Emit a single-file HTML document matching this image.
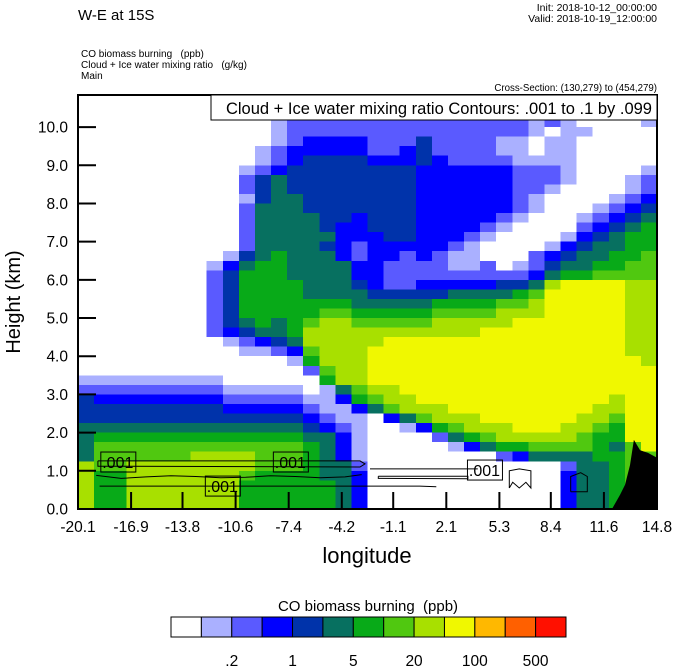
<!DOCTYPE html>
<html><head><meta charset="utf-8"><style>
html,body{margin:0;padding:0;background:#fff;}
svg{display:block;font-family:"Liberation Sans",sans-serif;}
.pre{white-space:pre;}
</style></head><body>
<svg id="chart" width="674" height="667" viewBox="0 0 674 667">
<text x="78" y="20" font-size="15">W-E at 15S</text>
<text x="657" y="11" font-size="10.5" text-anchor="end">Init: 2018-10-12_00:00:00</text>
<text x="657" y="22" font-size="10.5" text-anchor="end">Valid: 2018-10-19_12:00:00</text>
<text x="81" y="57" font-size="10" class="pre">CO biomass burning   (ppb)</text>
<text x="81" y="68" font-size="10" class="pre">Cloud + Ice water mixing ratio   (g/kg)</text>
<text x="81" y="79" font-size="10">Main</text>
<text x="657" y="91" font-size="9.7" text-anchor="end">Cross-Section: (130,279) to (454,279)</text>
<defs><clipPath id="pc"><rect x="78" y="95" width="579" height="414"/></clipPath></defs>
<g id="cells" clip-path="url(#pc)" shape-rendering="crispEdges"></g>
<g id="terrain" clip-path="url(#pc)"></g>
<g id="contours" clip-path="url(#pc)"></g>
<g id="axes"></g>
<rect x="211" y="95" width="446" height="25" fill="#fff" stroke="#000" stroke-width="1"/>
<text x="652" y="114" font-size="16.5" text-anchor="end">Cloud + Ice water mixing ratio Contours: .001 to .1 by .099</text>
<text x="367" y="563" font-size="22" text-anchor="middle">longitude</text>
<text transform="translate(20,302) rotate(-90)" font-size="20" text-anchor="middle">Height (km)</text>
<text x="368" y="611" font-size="15" text-anchor="middle" class="pre">CO biomass burning  (ppb)</text>
<g id="cbar"></g>
</svg>
<script>
const levelColors=["#ffffff","#aab0ff","#5a5aff","#0000ff","#0033aa","#077060","#08aa18","#50c810","#a8e000","#f0f800","#ffb800","#ff6000","#ff1000"];
const colorbarLabels=[".2","1","5","20","100","500"];
const colorbarLabelIdx=[2,4,6,8,10,12];
const xTickLabels=["-20.1","-16.9","-13.8","-10.6","-7.4","-4.2","-1.1","2.1","5.3","8.4","11.6","14.8"];
const yTickValues=[0,1,2,3,4,5,6,7,8,9,10];
const lonMin=-20.1, lonMax=14.8, hMin=0, hMax=10.84;
const gridRowHeight=0.25;
const gridTopH=11.0;
// CO level index per cell, rows top (11 km) to bottom (0 km), 36 columns W->E
const coGrid=[
"000000000000122222222222222221000001",
"000000000000122222222222222221000001",
"000000000000122222222222222221000001",
"000000000000122222222222222212100001",
"000000000000122222222222222210110000",
"000000000000123333222422221101100000",
"000000000001233333223422221101100000",
"000000000001234444333432222111100000",
"000000000012344444444333333222100001",
"000000000024544444444333333222100012",
"000000000024544444444333333221000012",
"000000000014554444444333333210000123",
"000000000025554444444333333210001234",
"000000000025555443444333332100012345",
"000000000025555433444333321000023456",
"000000000025555533344333210000134566",
"000000000025555432333332100001345566",
"000000000145655532332321100023455667",
"000000001356655553322221120124556677",
"000000002466655553322222222235667777",
"000000002466665554322333334458999988",
"000000002466665555444445555679999988",
"000000002466666665555566667789999988",
"000000002466666776666677778889999988",
"000000002456567887777788888999999988",
"000000002345568888888888899999999988",
"000000000123458888899999999999999988",
"000000000011237888999999999999999988",
"000000000000016888999999999999999998",
"000000000000002788999999999999999999",
"111111111000000688999999999999999999",
"222222222111110157889999999999999999",
"433333333222221136788999999999999899",
"444444444333332113578889999999998899",
"444444444444443211035788899999988799",
"555555555555554321001367888999887699",
"566666666666665531000025678888876699",
"577777777777776531000001356677776579",
"577777788887776531000000002355556677",
"877888888887776552000000000000255677",
"866888888876666553000000000000355677",
"866888888866666653000000000000355677",
"866888888866666653000000000000355677",
"866888888866666653000000000000355677"];
// Terrain profile (lon, km)
const terrainLon=[12.09,12.57,12.87,13.17,13.41,13.78,14.26,14.8];
const terrainH=[0.0,0.37,0.63,1.15,1.81,1.54,1.47,1.34];
// Cloud + ice contour lines (.001 g/kg), lon/height pairs
const contourLon1=[-18.9,-3.1,-2.8,-3.1,-18.9,-18.9];
const contourH1=[1.26,1.26,1.18,1.10,1.12,1.26];
const contourLon2=[-19.0,-17.5,-16.0,-14.5,-13.0,-11.5,-10.0,-8.5,-7.0,-5.5,-4.0,-3.0];
const contourH2=[0.88,0.80,0.84,0.87,0.85,0.82,0.83,0.87,0.85,0.82,0.84,0.90];
const contourLon3=[-18.8,-10.0,0.5,1.5];
const contourH3=[0.60,0.60,0.60,0.58];
const contourLon4=[-2.5,4.0];
const contourH4=[1.05,1.05];
const contourLon5=[-2.0,3.4,3.4,-2.0,-2.0];
const contourH5=[0.86,0.86,0.79,0.80,0.86];
const contourLon6=[5.9,5.9,6.5,7.2,7.2,6.9,6.5,6.1,5.9];
const contourH6=[0.55,1.0,1.05,1.0,0.55,0.7,0.55,0.7,0.55];
const contourLon7=[9.6,9.6,10.2,10.6,10.6,9.6];
const contourH7=[0.45,0.85,0.95,0.85,0.45,0.45];
const contourLabelText=[".001",".001",".001",".001"];
const contourLabelLon=[-17.7,-7.3,-11.4,4.4];
const contourLabelH=[1.23,1.23,0.60,1.02];

const X0=78,X1=657,Y0=509,Y1=95;
const xScale=v=>X0+(v-lonMin)/(lonMax-lonMin)*(X1-X0);
const yScale=v=>Y0-(v-hMin)/(hMax-hMin)*(Y0-Y1);
const NS="http://www.w3.org/2000/svg";
function mk(tag,attrs,parent){const e=document.createElementNS(NS,tag);for(const k in attrs)e.setAttribute(k,attrs[k]);parent.appendChild(e);return e;}

const cells=document.getElementById('cells');
const nCols=coGrid[0].length;
const dLon=(lonMax-lonMin)/nCols;
coGrid.forEach((row,r)=>{
  const hTop=gridTopH-r*gridRowHeight, hBot=hTop-gridRowHeight;
  for(let i=0;i<nCols;i++){
    const lv=parseInt(row[i],13);
    const xa=xScale(lonMin+i*dLon), xb=xScale(lonMin+(i+1)*dLon);
    const c=mk('rect',{x:xa.toFixed(2),y:yScale(hTop).toFixed(2),width:(xb-xa+0.6).toFixed(2),height:(yScale(hBot)-yScale(hTop)+0.6).toFixed(2),fill:levelColors[lv]},cells);
    
    
  }
});

const ter=document.getElementById('terrain');
let tp=terrainLon.map((l,i)=>xScale(l).toFixed(1)+','+yScale(terrainH[i]).toFixed(1));
tp.push(xScale(lonMax).toFixed(1)+','+yScale(0).toFixed(1));
const tpoly=mk('polygon',{points:tp.join(' '),fill:'#000'},ter);



const cg=document.getElementById('contours');
[[contourLon1,contourH1],[contourLon2,contourH2],[contourLon3,contourH3],[contourLon4,contourH4],[contourLon5,contourH5],[contourLon6,contourH6],[contourLon7,contourH7]].forEach(([lo,hh])=>{
  const pl=mk('polyline',{points:lo.map((l,i)=>xScale(l).toFixed(1)+','+yScale(hh[i]).toFixed(1)).join(' '),fill:'none',stroke:'#000','stroke-width':1},cg);
  
  
});
contourLabelText.forEach((t,i)=>{
  const cx=xScale(contourLabelLon[i]), cy=yScale(contourLabelH[i]);
  const b=mk('rect',{x:cx-17,y:cy-10,width:35,height:20,fill:'none',stroke:'#000','stroke-width':1},cg);
  
  
  const tx=mk('text',{x:cx,y:cy+6,'font-size':16,'text-anchor':'middle'},cg);
  tx.textContent=t;
  
  
});

const ax=document.getElementById('axes');
const frame=mk('rect',{x:X0,y:Y1,width:X1-X0,height:Y0-Y1,fill:'none',stroke:'#000','stroke-width':2},ax);


yTickValues.forEach(v=>{
  const y=yScale(v);
  const t=mk('line',{x1:X0,x2:X0+18,y1:y,y2:y,stroke:'#000','stroke-width':2},ax);
  
  
  const l=mk('text',{x:68,y:y+5.5,'font-size':15.5,'text-anchor':'end'},ax);
  l.textContent=v.toFixed(1);
  
  
});
xTickLabels.forEach((s,i)=>{
  const x=xScale(parseFloat(s));
  const t=mk('line',{x1:x,x2:x,y1:Y0,y2:Y0-17,stroke:'#000','stroke-width':2},ax);
  
  
  const l=mk('text',{x:x,y:532,'font-size':15.5,'text-anchor':'middle'},ax);
  l.textContent=s;
  
  
});

const cb=document.getElementById('cbar');
const cbX=171,cbY=617,cbW=(566-171)/levelColors.length,cbH=20;
levelColors.forEach((c,i)=>{
  const r=mk('rect',{x:cbX+i*cbW,y:cbY,width:cbW,height:cbH,fill:c,stroke:'#000','stroke-width':1},cb);
  
  
});
colorbarLabels.forEach((s,i)=>{
  const l=mk('text',{x:cbX+colorbarLabelIdx[i]*cbW,y:666,'font-size':15.5,'text-anchor':'middle'},cb);
  l.textContent=s;
  
  
});
</script>
</body></html>
